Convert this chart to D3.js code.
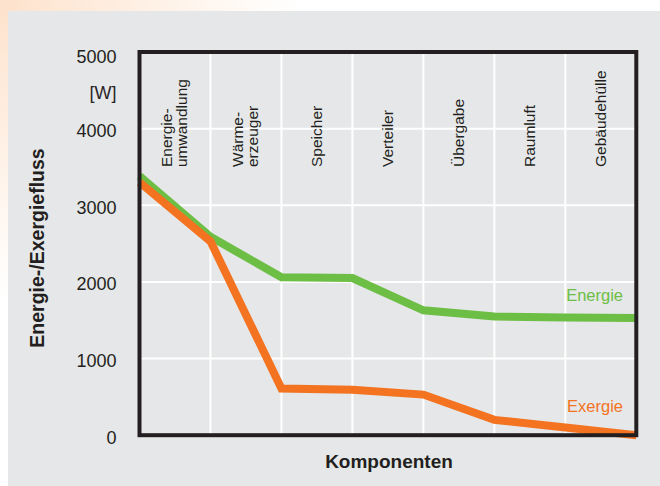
<!DOCTYPE html>
<html>
<head>
<meta charset="utf-8">
<script src="https://cdn.jsdelivr.net/npm/d3@7/dist/d3.min.js"></script>
<style>
  html, body { margin: 0; padding: 0; background: #ffffff; }
  svg { display: block; }
  text { font-family: "Liberation Sans", Arial, sans-serif; fill: #231f20; }
</style>
</head>
<body>
<svg id="chart" width="660" height="486"></svg>
<script>
// ---- data ----
const categories = [
  ["Energie-", "umwandlung"],
  ["Wärme-", "erzeuger"],
  ["Speicher"],
  ["Verteiler"],
  ["Übergabe"],
  ["Raumluft"],
  ["Gebäudehülle"]
];
// values at the boundaries between components (8 points)
const energie = [3380, 2590, 2060, 2050, 1630, 1550, 1535, 1530];
const exergie = [3300, 2530, 610, 592, 530, 200, 100, 0];
const yTicks = [0, 1000, 2000, 3000, 4000, 5000];
const yUnit = "[W]";
const yTitle = "Energie-/Exergiefluss";
const xTitle = "Komponenten";
const seriesNames = ["Energie", "Exergie"];

(function () {
// ---- layout ----
const W = 660, H = 486;
const pL = 139.5, pR = 636.3, pT = 52, pB = 435.2;
const green = "#6dbe45", orange = "#f37321";

const svg = d3.select("#chart");

// page background with warm gradient at top-left
const defs = svg.append("defs");
const rg = defs.append("radialGradient").attr("id", "warm")
  .attr("cx", 0).attr("cy", 0).attr("r", 300).attr("gradientUnits", "userSpaceOnUse");
rg.append("stop").attr("offset", "0%").attr("stop-color", "#fde2cc");
rg.append("stop").attr("offset", "100%").attr("stop-color", "#ffffff");
svg.append("rect").attr("width", W).attr("height", H).attr("fill", "url(#warm)");

// gray panel
svg.append("rect").attr("x", 8).attr("y", 11).attr("width", W - 8).attr("height", H - 11)
  .attr("fill", "#e6e7e8");

// scales
const x = d3.scaleLinear().domain([0, categories.length]).range([pL, pR]);
const y = d3.scaleLinear().domain([0, 5000]).range([pB, pT]);

// grid lines
const grid = svg.append("g");
grid.selectAll("line.h").data(yTicks.filter(v => v > 0 && v < 5000)).join("line")
  .attr("class", "h")
  .attr("x1", pL).attr("x2", pR)
  .attr("y1", d => y(d)).attr("y2", d => y(d))
  .attr("stroke", "#ffffff").attr("stroke-width", 2);
grid.selectAll("line.v").data(d3.range(1, categories.length)).join("line")
  .attr("class", "v")
  .attr("x1", d => x(d)).attr("x2", d => x(d))
  .attr("y1", pT).attr("y2", pB)
  .attr("stroke", "#ffffff").attr("stroke-width", 2);

// y axis labels
const yAxis = d3.axisLeft(y).tickValues(yTicks).tickSize(0).tickPadding(0)
  .tickFormat(d => String(d));
const gy = svg.append("g").attr("transform", `translate(${116.5},0)`).call(yAxis);
gy.select(".domain").remove();
gy.selectAll("text")
  .attr("font-family", "Liberation Sans, Arial, sans-serif")
  .attr("font-size", 18).attr("fill", "#2a2627")
  .attr("dy", "0.38em")
  .attr("transform", d => d === 5000 ? "translate(0,4)" : "translate(0,1)");
svg.append("text").attr("x", 116.5).attr("y", 98.5).attr("text-anchor", "end")
  .attr("font-size", 18).style("fill", "#2a2627").text(yUnit);

// category labels (rotated, reading upward)
const catG = svg.append("g");
categories.forEach((lines, i) => {
  const cx = x(i + 0.5);
  const n = lines.length;
  lines.forEach((ln, j) => {
    const off = n === 1 ? 5 : (j === 0 ? -2.5 : 12.5);
    catG.append("text")
      .attr("transform", `translate(${cx + off},167) rotate(-90)`)
      .attr("font-size", 15.5)
      .attr("text-anchor", "start")
      .text(ln);
  });
});

// lines
const line = d3.line().x((d, i) => x(i)).y(d => y(d)).curve(d3.curveLinear);
svg.append("path").datum(energie).attr("d", line)
  .attr("fill", "none").attr("stroke", green).attr("stroke-width", 8)
  .attr("stroke-linejoin", "miter");
svg.append("path").datum(exergie).attr("d", line)
  .attr("fill", "none").attr("stroke", orange).attr("stroke-width", 8)
  .attr("stroke-linejoin", "miter");

// frame
svg.append("rect").attr("x", pL).attr("y", pT)
  .attr("width", pR - pL).attr("height", pB - pT)
  .attr("fill", "none").attr("stroke", "#231f20").attr("stroke-width", 4);

// series labels
svg.append("text").attr("x", 623).attr("y", 301).attr("text-anchor", "end")
  .attr("font-size", 16.5).style("fill", green).text(seriesNames[0]);
svg.append("text").attr("x", 623).attr("y", 412).attr("text-anchor", "end")
  .attr("font-size", 16.5).style("fill", orange).text(seriesNames[1]);

// axis titles
svg.append("text").attr("transform", `translate(44,248) rotate(-90)`)
  .attr("text-anchor", "middle").attr("font-size", 19.5).attr("font-weight", "bold")
  .text(yTitle);
svg.append("text").attr("x", 389).attr("y", 468).attr("text-anchor", "middle")
  .attr("font-size", 19).attr("font-weight", "bold").text(xTitle);
})();
</script>
</body>
</html>
